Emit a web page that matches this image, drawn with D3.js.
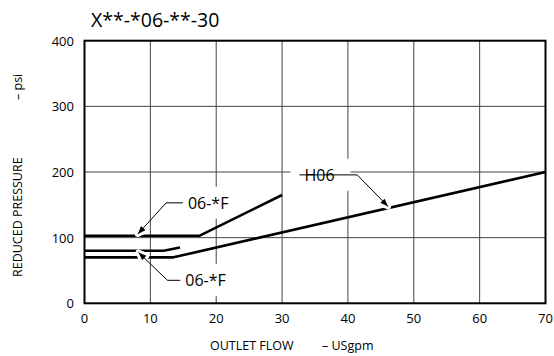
<!DOCTYPE html>
<html>
<head>
<meta charset="utf-8">
<script src="https://cdn.jsdelivr.net/npm/d3@7"></script>
<style>
  body { margin: 0; background: #fff; }
  svg { display: block; font-family: "Open Sans", sans-serif; }
</style>
</head>
<body>
<svg width="554" height="356"></svg>
<script>
// chart values
const title = "X**-*06-**-30"
const flowTicks = [0, 10, 20, 30, 40, 50, 60, 70]
const pressureTicks = [0, 100, 200, 300, 400]
const curve06FHigh = [[0, 103], [17.5, 103], [30, 165]]
const curve06FLow = [[0, 80], [12, 80], [14.5, 85]]
const curveH06 = [[0, 70], [13.5, 70], [70, 200]]
const callouts = [
  { label: "06-*F", at: [15.7, 153], knee: [12.4, 153], tip: [8.1, 105.5] },
  { label: "06-*F", at: [15.3, 35], knee: [12.6, 35], tip: [8.2, 77.5] },
  { label: "H06", at: [33.4, 195.6], knee: [41.4, 195.6], tip: [46.1, 147.5] }
]

let svg = d3.select("svg")

let x = d3.scaleLinear().domain([0, 70]).range([84.5, 545.5])
let y = d3.scaleLinear().domain([0, 400]).range([303.3, 40.7])

// gridlines
svg.append("g")
  .selectAll("line")
  .data(flowTicks.slice(1, -1))
  .join("line")
  .attr("x1", d => x(d)).attr("x2", d => x(d))
  .attr("y1", y(0)).attr("y2", y(400))
  .style("stroke", "#444")
  .style("stroke-width", 1)

svg.append("g")
  .selectAll("line")
  .data(pressureTicks.slice(1, -1))
  .join("line")
  .attr("x1", x(0)).attr("x2", x(70))
  .attr("y1", d => y(d)).attr("y2", d => y(d))
  .style("stroke", "#444")
  .style("stroke-width", 1)

// white boxes behind the callout labels (sized from the text later)
let boxes = svg.append("g")

// frame
svg.append("rect")
  .attr("x", x(0)).attr("y", y(400))
  .attr("width", x(70) - x(0))
  .attr("height", y(0) - y(400))
  .style("fill", "none")
  .style("stroke", "#000")
  .style("stroke-width", 2)

// curves
let line = d3.line().x(d => x(d[0])).y(d => y(d[1]))
svg.append("g")
  .selectAll("path")
  .data([curve06FHigh, curve06FLow, curveH06])
  .join("path")
  .attr("d", line)
  .style("fill", "none")
  .style("stroke", "#000")
  .style("stroke-width", 2.6)
  .style("stroke-linejoin", "round")

// leaders with arrowheads
let leaderPts = d => [[x(d.at[0]) - 5, y(d.at[1])], [x(d.knee[0]), y(d.knee[1])], [x(d.tip[0]), y(d.tip[1])]]
let arrowHead = d => {
  let p = leaderPts(d)
  let a = Math.atan2(p[2][1] - p[1][1], p[2][0] - p[1][0])
  let len = 8, w = 3
  let bx = p[2][0] - len * Math.cos(a), by = p[2][1] - len * Math.sin(a)
  return `M${p[2][0]},${p[2][1]}L${bx + w * Math.sin(a)},${by - w * Math.cos(a)}L${bx - w * Math.sin(a)},${by + w * Math.cos(a)}Z`
}

let leaders = svg.append("g")
leaders.selectAll("path.halo")
  .data(callouts)
  .join("path")
  .attr("class", "halo")
  .attr("d", arrowHead)
  .style("fill", "#fff")
  .style("stroke", "#fff")
  .style("stroke-width", 6)
  .style("stroke-linejoin", "round")
leaders.selectAll("path.lead")
  .data(callouts)
  .join("path")
  .attr("class", "lead")
  .attr("d", d => d3.line()(leaderPts(d)))
  .style("fill", "none")
  .style("stroke", "#000")
  .style("stroke-width", 1)
leaders.selectAll("path.head")
  .data(callouts)
  .join("path")
  .attr("class", "head")
  .attr("d", arrowHead)
  .style("fill", "#000")

// callout labels
svg.append("g")
  .selectAll("text")
  .data(callouts)
  .join("text")
  .attr("x", d => x(d.at[0]))
  .attr("y", d => y(d.at[1]))
  .attr("dy", "0.36em")
  .style("font-size", "16px")
  .text(d => d.label)
  .each(function () {
    let b = this.getBBox()
    boxes.append("rect")
      .attr("x", b.x - 14)
      .attr("y", b.y - 5)
      .attr("width", b.width + 30)
      .attr("height", b.height + 10)
      .style("fill", "#fff")
  })

// tick labels
svg.append("g")
  .selectAll("text")
  .data(flowTicks)
  .join("text")
  .attr("x", d => x(d))
  .attr("y", 323)
  .attr("text-anchor", "middle")
  .style("font-size", "13px")
  .text(d => d)

svg.append("g")
  .selectAll("text")
  .data(pressureTicks)
  .join("text")
  .attr("x", 74)
  .attr("y", d => y(d) + 5)
  .attr("text-anchor", "end")
  .style("font-size", "13px")
  .text(d => d)

// titles
svg.append("text")
  .attr("x", 91)
  .attr("y", 27)
  .style("font-size", "19.5px")
  .text(title)

svg.append("text")
  .attr("x", 210).attr("y", 350)
  .style("font-size", "12.5px")
  .text("OUTLET FLOW")
svg.append("text")
  .attr("x", 322).attr("y", 350)
  .style("font-size", "12.5px")
  .text("– USgpm")

svg.append("text")
  .attr("transform", "translate(22,277) rotate(-90)")
  .style("font-size", "12.5px")
  .text("REDUCED PRESSURE")
svg.append("text")
  .attr("transform", "translate(22,100) rotate(-90)")
  .style("font-size", "12.5px")
  .text("– psi")
</script>
</body>
</html>
